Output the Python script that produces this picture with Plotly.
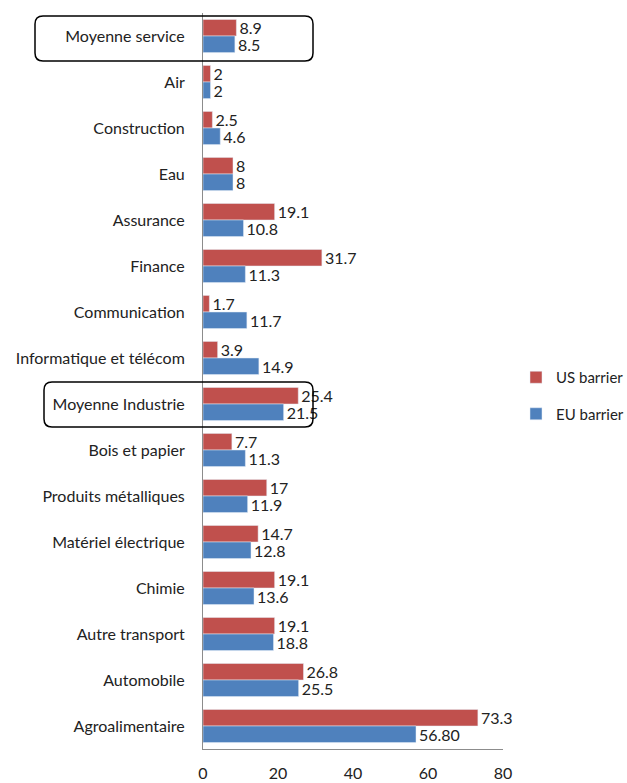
import plotly.graph_objects as go

categories = ["Moyenne service", "Air", "Construction", "Eau", "Assurance", "Finance",
              "Communication", "Informatique et télécom", "Moyenne Industrie",
              "Bois et papier", "Produits métalliques", "Matériel électrique", "Chimie",
              "Autre transport", "Automobile", "Agroalimentaire"]
us_values = [8.9, 2, 2.5, 8, 19.1, 31.7, 1.7, 3.9, 25.4, 7.7, 17, 14.7, 19.1, 19.1, 26.8, 73.3]
eu_values = [8.5, 2, 4.6, 8, 10.8, 11.3, 11.7, 14.9, 21.5, 11.3, 11.9, 12.8, 13.6, 18.8, 25.5, 56.80]
us_labels = ["8.9", "2", "2.5", "8", "19.1", "31.7", "1.7", "3.9", "25.4", "7.7", "17", "14.7",
             "19.1", "19.1", "26.8", "73.3"]
eu_labels = ["8.5", "2", "4.6", "8", "10.8", "11.3", "11.7", "14.9", "21.5", "11.3", "11.9",
             "12.8", "13.6", "18.8", "25.5", "56.80"]
x_ticks = [0, 20, 40, 60, 80]

W, H = 627, 783
ML, MR, MT, MB = 203, 124, 13, 34
PW, PH = W - ML - MR, H - MT - MB
FONT = "Lato, 'Open Sans', sans-serif"


def px2paper(px, py):
    return (px - ML) / PW, (H - MB - py) / PH


def rounded_box(x0, y0, x1, y1, r=8):
    def P(x, y):
        a, b = px2paper(x, y)
        return f"{a:.5f},{b:.5f}"
    path = (f"M {P(x0 + r, y0)} L {P(x1 - r, y0)} Q {P(x1, y0)} {P(x1, y0 + r)} "
            f"L {P(x1, y1 - r)} Q {P(x1, y1)} {P(x1 - r, y1)} "
            f"L {P(x0 + r, y1)} Q {P(x0, y1)} {P(x0, y1 - r)} "
            f"L {P(x0, y0 + r)} Q {P(x0, y0)} {P(x0 + r, y0)} Z")
    return dict(type="path", xref="paper", yref="paper", path=path,
                line=dict(color="black", width=1.5), fillcolor="rgba(0,0,0,0)", layer="above")


fig = go.Figure()
fig.add_trace(go.Bar(
    y=categories, x=us_values, orientation="h", name="US barrier",
    marker=dict(color="#C0504D"), text=us_labels, textposition="outside",
    constraintext="none", cliponaxis=False, legendgroup="us",
    textfont=dict(size=16, color="#222222", family=FONT)))
fig.add_trace(go.Bar(
    y=categories, x=eu_values, orientation="h", name="EU barrier",
    marker=dict(color="#4F81BD"), text=eu_labels, textposition="outside",
    constraintext="none", cliponaxis=False, legendgroup="eu",
    textfont=dict(size=16, color="#222222", family=FONT)))

fig.update_layout(
    width=W, height=H,
    margin=dict(l=ML, r=MR, t=MT, b=MB, autoexpand=False),
    barmode="group", bargap=0.28, bargroupgap=0,
    plot_bgcolor="white", paper_bgcolor="white",
    font=dict(family=FONT, size=16, color="#222222"),
    xaxis=dict(range=[0, 80], tickvals=x_ticks, showgrid=False, zeroline=False,
               showline=True, linecolor="#8c8c8c", linewidth=1, automargin=False,
               ticks="", ticklabelstandoff=10, tickfont=dict(size=16)),
    yaxis=dict(autorange="reversed", showgrid=False, zeroline=False, automargin=False,
               showline=True, linecolor="#8c8c8c", linewidth=1,
               ticks="", ticklabelstandoff=14, tickfont=dict(size=16)),
    legend=dict(x=px2paper(516, 0)[0], y=px2paper(0, 361)[1], xanchor="left", yanchor="top",
                traceorder="grouped", tracegroupgap=14, font=dict(size=15),
                bgcolor="rgba(0,0,0,0)", itemwidth=30),
    showlegend=True,
    shapes=[rounded_box(35, 16, 313, 61), rounded_box(44, 382, 313, 427)],
)

fig.write_html("out.html")
